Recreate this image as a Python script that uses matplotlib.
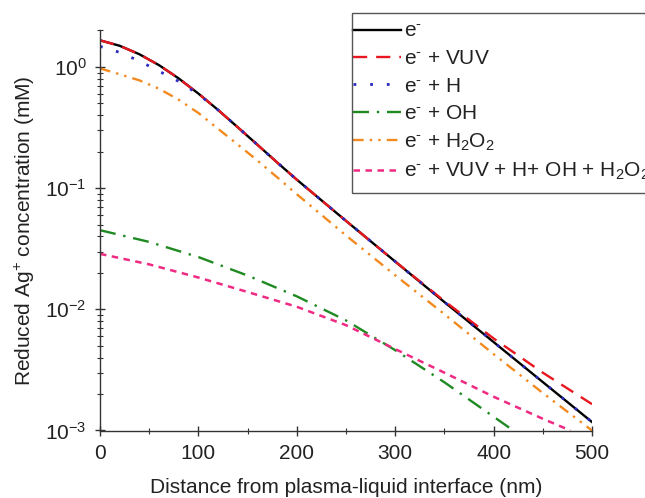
import matplotlib
matplotlib.use("Agg")
import matplotlib.pyplot as plt
from matplotlib.patches import Rectangle
import numpy as np

plt.rcParams['font.family'] = ['Liberation Sans', 'DejaVu Sans']
plt.rcParams['mathtext.fontset'] = 'custom'
plt.rcParams['mathtext.rm'] = 'Liberation Sans'
plt.rcParams['mathtext.it'] = 'Liberation Sans:italic'

# distance from interface (nm)
dist = [0, 20, 40, 60, 80, 100, 120, 140, 160, 180, 200, 250, 300, 350, 400, 450, 500]

# reduced Ag+ concentration (mM)
e_only = [1.66, 1.496, 1.274, 1.035, 0.804, 0.603, 0.442, 0.318, 0.228, 0.163, 0.1175,
          0.0537, 0.0248, 0.01148, 0.00537, 0.00251, 0.001175]
e_vuv = [1.66, 1.496, 1.274, 1.035, 0.804, 0.603, 0.442, 0.318, 0.228, 0.163, 0.1175,
         0.0537, 0.0248, 0.0117, 0.00575, 0.0030, 0.00165]
e_h = [1.48, 1.32, 1.12, 0.923, 0.76, 0.596, 0.442, 0.318, 0.228, 0.163, 0.1175,
       0.0537, 0.0248, 0.01148, 0.00537, 0.00251, 0.001175]
e_h2o2 = [0.973, 0.871, 0.776, 0.661, 0.537, 0.417, 0.309, 0.229, 0.169, 0.123, 0.0891,
          0.0407, 0.0191, 0.00912, 0.00427, 0.00204, 0.0010]

dist_oh = [0, 50, 100, 150, 200, 250, 300, 350, 400, 420]
e_oh = [0.045, 0.036, 0.027, 0.019, 0.0128, 0.0081, 0.0046, 0.0025, 0.0013, 0.001]

dist_all = [0, 50, 100, 150, 200, 250, 300, 350, 400, 450, 478]
e_all = [0.0287, 0.0235, 0.0183, 0.0139, 0.0105, 0.0074, 0.0047, 0.0030, 0.0019, 0.00125, 0.001]

em = r'e$^{\text{-}}$'

fig = plt.figure(figsize=(6.45, 4.98), dpi=100)
ax = fig.add_axes([100 / 645, 1 - 430.5 / 498, 492 / 645, 400 / 498])

ax.plot(dist, e_only, color='black', lw=1.7, ls='-', label=em)
ax.plot(dist, e_vuv, color='#e8161e', lw=1.7, ls=(0, (6, 3.8)), label=em + ' + VUV')
ax.plot(dist, e_h, color='#2a2ac0', lw=2.0, ls=(0, (1, 5)), label=em + ' + H')
ax.plot(dist_oh, e_oh, color='#1f8a22', lw=1.7, ls=(0, (6.8, 3.3, 1, 3.3)), label=em + ' + OH')
ax.plot(dist, e_h2o2, color='#f28a1f', lw=1.7, ls=(0, (4.5, 2.6, 1, 2.6, 1, 2.6)),
        label=em + ' + H$_2$O$_2$')
ax.plot(dist_all, e_all, color='#ef2a82', lw=1.8, ls=(0, (2.6, 2.2)),
        label=em + ' + VUV + H+ OH + H$_2$O$_2$')

ax.set_yscale('log')
ax.set_ylim(1e-3, 2)
ax.set_xlim(0, 500)
ax.set_xticks([0, 100, 200, 300, 400, 500])
ax.set_xticks([50, 150, 250, 350, 450], minor=True)

for s in ['top', 'right']:
    ax.spines[s].set_visible(False)
for s in ['left', 'bottom']:
    ax.spines[s].set_linewidth(1.0)
    ax.spines[s].set_color('#333333')

ax.tick_params(which='major', direction='inout', length=7, width=1.0, labelsize=15,
               colors='#333333', labelcolor='#222222', pad=6)
ax.tick_params(which='minor', direction='inout', length=4, width=0.8, colors='#333333')

ax.set_xlabel('Distance from plasma-liquid interface (nm)', fontsize=15, labelpad=11, color='#222222')
ax.set_ylabel('Reduced Ag$^{+}$ concentration (mM)', fontsize=15, labelpad=6, color='#222222')

# legend without its own frame; box drawn separately so it hugs the handles
leg = ax.legend(loc='upper left', bbox_to_anchor=(353 / 645, 1 - 22 / 498),
                bbox_transform=fig.transFigure, fontsize=15, frameon=False,
                handlelength=2.3, handletextpad=0.15, labelspacing=0.4,
                borderpad=0, borderaxespad=0)
for t in leg.get_texts():
    t.set_color('#222222')
fig.patches.append(Rectangle((352 / 645, 1 - 193 / 498), 400 / 645, 180 / 498,
                             transform=fig.transFigure, fill=False,
                             edgecolor='#555555', lw=1.0, zorder=5))

fig.savefig('out.png', dpi=100)
